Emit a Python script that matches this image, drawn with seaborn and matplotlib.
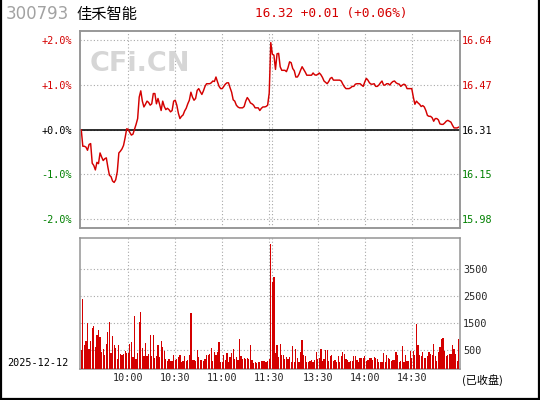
import matplotlib
matplotlib.use("Agg")
import matplotlib.pyplot as plt
import seaborn as sns
import numpy as np
import pandas as pd
from matplotlib.lines import Line2D

# ---------------- data ----------------
code = "300793"
name = "佳禾智能"
last_price = 16.32
change = 0.01
change_pct = 0.06
prev_close = 16.31
date_label = "2025-12-12"
status_label = "(已收盘)"
watermark = "CFi.CN"

# percent change vs previous close, one value per minute (09:30-11:30, 13:00-15:00)
pct_am = [
    0.00, -0.37, -0.37, -0.39, -0.46, -0.33, -0.31, -0.75, -0.80, -0.90,
    -0.73, -0.76, -0.52, -0.61, -0.69, -0.65, -0.63, -0.84, -1.02, -1.05,
    -1.15, -1.18, -1.12, -0.94, -0.52, -0.48, -0.43, -0.35, -0.18, 0.02,
    0.01, -0.06, -0.12, -0.10, 0.01, 0.12, 0.25, 0.73, 0.87, 0.64,
    0.51, 0.57, 0.64, 0.61, 0.55, 0.58, 0.81, 0.81, 0.58, 0.70,
    0.57, 0.43, 0.64, 0.52, 0.45, 0.48, 0.45, 0.40, 0.43, 0.64,
    0.66, 0.55, 0.37, 0.25, 0.30, 0.33, 0.42, 0.48, 0.58, 0.66,
    0.84, 0.73, 0.66, 0.70, 0.88, 0.92, 0.85, 0.79, 0.87, 0.97,
    1.03, 1.03, 1.03, 1.05, 1.09, 1.08, 1.18, 1.07, 0.97, 0.92,
    0.92, 0.97, 1.02, 1.05, 1.05, 0.94, 0.84, 0.67, 0.64, 0.55,
    0.51, 0.49, 0.49, 0.49, 0.52, 0.64, 0.72, 0.67, 0.60, 0.58,
    0.55, 0.49, 0.49, 0.49, 0.43, 0.48, 0.51, 0.51, 0.52, 0.55,
    0.82,
]
pct_pm = [
    1.95, 1.69, 1.67, 1.35, 1.70, 1.71, 1.41, 1.33, 1.33, 1.33,
    1.30, 1.39, 1.52, 1.50, 1.37, 1.32, 1.18, 1.18, 1.24, 1.33,
    1.41, 1.35, 1.29, 1.22, 1.22, 1.22, 1.22, 1.27, 1.23, 1.22,
    1.24, 1.27, 1.23, 1.17, 1.09, 1.06, 1.03, 1.08, 1.15, 1.17,
    1.11, 1.11, 1.11, 1.11, 1.11, 1.09, 1.02, 0.96, 0.92, 0.92,
    0.92, 0.94, 0.97, 0.97, 1.02, 1.03, 1.03, 1.03, 1.00, 0.97,
    1.07, 1.15, 1.11, 1.05, 1.02, 1.02, 1.03, 0.97, 0.97, 1.00,
    1.05, 1.09, 1.00, 1.00, 1.03, 1.03, 1.00, 1.05, 1.08, 1.09,
    1.05, 1.03, 1.02, 0.97, 1.00, 1.02, 1.00, 0.92, 0.92, 0.92,
    0.92, 0.73, 0.57, 0.64, 0.60, 0.57, 0.52, 0.54, 0.51, 0.43,
    0.32, 0.30, 0.30, 0.27, 0.19, 0.25, 0.25, 0.22, 0.13, 0.12,
    0.12, 0.15, 0.19, 0.21, 0.19, 0.17, 0.10, 0.04, 0.04, 0.04,
    0.06,
]
vol_am = [
    500, 2397, 686, 835, 1504, 537, 847, 1331, 1393, 612,
    1058, 1244, 984, 438, 537, 314, 723, 1170, 1542, 388,
    1021, 674, 574, 165, 686, 351, 314, 351, 463, 388,
    400, 723, 798, 240, 1765, 165, 376, 1542, 1914, 574,
    277, 760, 277, 351, 1058, 277, 1058, 202, 277, 686,
    240, 835, 612, 463, 165, 91, 165, 91, 91, 314,
    128, 165, 240, 314, 54, 91, 277, 91, 128, 314,
    1876, 128, 128, 91, 500, 240, 128, 128, 91, 165,
    314, 314, 351, 574, 91, 426, 314, 426, 798, 54,
    54, 314, 128, 388, 54, 240, 388, 537, 165, 240,
    128, 909, 277, 165, 202, 165, 202, 165, 686, 128,
    16, 54, 16, 54, 54, 91, 91, 91, 54, 91,
    165,
]
vol_pm = [
    4443, 3042, 3228, 376, 686, 250, 723, 314, 314, 165,
    240, 165, 240, 50, 649, 60, 537, 202, 60, 426,
    872, 314, 277, 50, 54, 91, 128, 54, 128, 426,
    165, 202, 537, 91, 165, 500, 500, 91, 277, 314,
    91, 128, 60, 277, 60, 277, 426, 351, 165, 128,
    54, 91, 91, 277, 277, 128, 54, 202, 202, 202,
    277, 100, 128, 202, 202, 128, 240, 202, 165, 54,
    54, 54, 388, 60, 314, 202, 165, 91, 128, 128,
    426, 314, 60, 91, 661, 54, 314, 91, 91, 463,
    202, 463, 314, 1480, 686, 314, 277, 426, 202, 202,
    277, 426, 351, 314, 723, 277, 80, 426, 612, 909,
    960, 463, 277, 314, 351, 351, 686, 537, 351, 100,
    909,
]

time_ticks = [30, 60, 90, 120, 151, 181, 211]
time_labels = ["10:00", "10:30", "11:00", "11:30", "13:30", "14:00", "14:30"]
session_break = [121.5]
pct_ticks = [2, 1, 0, -1, -2]
vol_ticks = [500, 1500, 2500, 3500]

# ---------------- style ----------------
sns.set_style("white")
plt.rcParams["font.family"] = ["DejaVu Sans", "Noto Sans CJK SC"]
RED = "#d40000"
GREEN = "#008000"
GRID = "#a8a8a8"
SPINE = "#959595"
MONO = "DejaVu Sans Mono"
TS = 7.3

pct = pct_am + pct_pm
vol = vol_am + vol_pm
df = pd.DataFrame({"t": np.arange(len(pct)), "pct": pct, "vol": vol})

W, H = 540, 400
fig = plt.figure(figsize=(W / 100, H / 100), dpi=100)
fig.patch.set_facecolor("white")

ax = fig.add_axes([80 / W, 1 - 228 / H, 380 / W, 197 / H])
axv = fig.add_axes([80 / W, 1 - 369.3 / H, 380 / W, 131 / H])

XL = (-0.8, 241.8)

# ---- price panel ----
ax.axhline(0, color="black", lw=1.15, zorder=4)
sns.lineplot(data=df, x="t", y="pct", ax=ax, color=RED, linewidth=1.05, zorder=5)
ax.set_xlim(*XL)
ax.set_ylim(-2.2, 2.21)
ax.set_xlabel("")
ax.set_ylabel("")
ax.set_xticks(time_ticks)
ax.set_xticks(session_break, minor=True)
ax.set_xticklabels([])
ax.set_yticks(pct_ticks)
ax.set_yticklabels([f"{p:+.1f}%" for p in pct_ticks], family=MONO, fontsize=TS)
for lab, p in zip(ax.get_yticklabels(), pct_ticks):
    lab.set_color(RED if p > 0 else (GREEN if p < 0 else "black"))
ax.tick_params(axis="both", which="both", length=0)
ax.tick_params(axis="y", pad=5.8)
ax.grid(True, which="both", ls=(0, (1, 2)), color=GRID, lw=0.8)
ax.set_axisbelow(True)
ax.text(0.026, 0.83, watermark, transform=ax.transAxes, fontsize=19.5,
        fontweight="bold", color="#d6d6d6", ha="left", va="center", zorder=1)

ax2 = ax.twinx()
ax2.set_ylim(ax.get_ylim())
ax2.set_yticks(pct_ticks)
ax2.set_yticklabels([f"{prev_close * (1 + p / 100):.2f}" for p in pct_ticks],
                    family=MONO, fontsize=TS)
for lab, p in zip(ax2.get_yticklabels(), pct_ticks):
    lab.set_color(RED if p > 0 else (GREEN if p < 0 else "black"))
ax2.tick_params(axis="y", length=0, pad=1.5)
ax2.grid(False)

# ---- volume panel ----
vmin, vmax = -215, 4654
axv.bar(df["t"], df["vol"] - vmin, bottom=vmin, width=0.78, color=RED, linewidth=0, zorder=3)
axv.set_xlim(*XL)
axv.set_ylim(vmin, vmax)
axv.set_xticks(time_ticks)
axv.set_xticks(session_break, minor=True)
axv.set_xticklabels(time_labels, family=MONO, fontsize=TS)
axv.yaxis.tick_right()
axv.set_yticks(vol_ticks)
axv.set_yticklabels([str(v) for v in vol_ticks], family=MONO, fontsize=TS)
axv.tick_params(axis="both", which="both", length=0)
axv.tick_params(axis="x", pad=3)
axv.tick_params(axis="y", pad=2.2)
axv.grid(True, which="both", ls=(0, (1, 2)), color=GRID, lw=0.8)
axv.set_axisbelow(True)

for a in (ax, ax2, axv):
    for s in a.spines.values():
        s.set_color(SPINE)
        s.set_linewidth(1.1)
        s.set_visible(True)

# ---- header / annotations ----
fig.text(6 / W, 1 - 14 / H, code, color="#a2a2a2", fontsize=12, ha="left", va="center")
fig.text(76 / W, 1 - 14.5 / H, name, color="black", fontsize=11, ha="left", va="center",
         family=["Noto Sans CJK SC", "DejaVu Sans"])
fig.text(255 / W, 1 - 14 / H, f"{last_price:.2f} {change:+.2f} ({change_pct:+.2f}%)",
         color=RED, fontsize=9.2, family=MONO, ha="left", va="center")
fig.text(7 / W, 1 - 362.5 / H, date_label, color="black", fontsize=TS, family=MONO,
         ha="left", va="center")
fig.text(462 / W, 1 - 380 / H, status_label, color="black", fontsize=8,
         family=["Noto Sans CJK SC", "DejaVu Sans"], ha="left", va="center")

# figure frame (left, right, bottom)
for xs, ys in [([0.5 / W, 0.5 / W], [0, 1]), ([1 - 1.5 / W, 1 - 1.5 / W], [0, 1]),
               ([0, 1], [1 / H, 1 / H])]:
    fig.add_artist(Line2D(xs, ys, transform=fig.transFigure, color="black", lw=1.6))

fig.savefig("out.png", dpi=100, facecolor="white")
